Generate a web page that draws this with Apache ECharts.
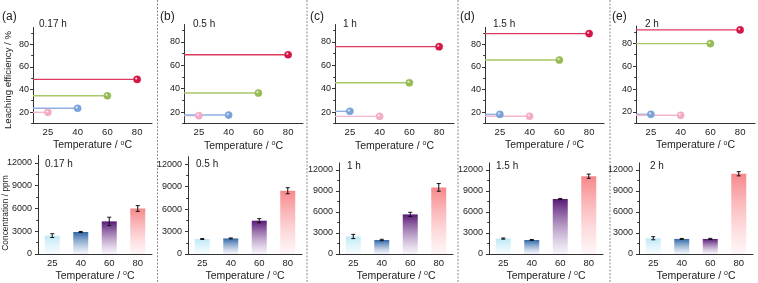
<!DOCTYPE html>
<html><head><meta charset="utf-8">
<script src="https://cdn.jsdelivr.net/npm/echarts@6/dist/echarts.min.js"></script>
<style>html,body{margin:0;padding:0;background:#fff}#c{width:758px;height:283px}</style>
</head><body><div id="c"></div>
<script>
// ---------- data ----------
const temperatures = ['25', '40', '60', '80'];
const periods = ['0.17 h', '0.5 h', '1 h', '1.5 h', '2 h'];
const panelLetters = ['(a)', '(b)', '(c)', '(d)', '(e)'];
// leaching efficiency (%) by temperature
const eff017 = [19.7, 23.3, 34.4, 48.9];
const eff05  = [16.9, 17.4, 36.3, 69.1];
const eff1   = [20.6, 16.3, 45.1, 76.0];
const eff15  = [17.9, 16.2, 66.1, 89.5];
const eff2   = [18.0, 17.1, 79.7, 91.7];
// concentration (ppm) and error by temperature
const conc017 = [2420, 2900, 4300, 6000];
const err017  = [250, 70, 550, 380];
const conc05  = [2000, 2080, 4450, 8450];
const err05   = [60, 60, 280, 400];
const conc1   = [2500, 2000, 5650, 9500];
const err1    = [300, 100, 300, 550];
const conc15  = [2200, 2000, 7850, 11100];
const err15   = [80, 70, 80, 300];
const conc2   = [2250, 2150, 2150, 11450];
const err2    = [220, 70, 80, 300];
// axis ticks
const effTicks = [20, 40, 60, 80];
const effMinor = [10, 30, 50, 70, 90];
const concTicks = [0, 3000, 6000, 9000, 12000];
const concMinor = [1500, 4500, 7500, 10500];
const effRange = [10, 95];
const concRange = [0, 13000];

const effSets = [eff017, eff05, eff1, eff15, eff2];
const concSets = [conc017, conc05, conc1, conc15, conc2];
const errSets = [err017, err05, err1, err15, err2];

// ---------- layout / style ----------
const FONT = '"Liberation Sans", Arial, sans-serif';
const topLeft = [33, 184, 335, 485, 636], topW = 119;
const topTop = [27.4, 24.5, 24.5, 27.4, 26.1], topBot = [123.3, 123.7, 123.7, 123.3, 123.45];
const botLeft = [38, 188, 339, 489, 639], botW = 114;
const botTop = [155.4, 156.7, 162.9, 162.9, 162.9], botBot = [254, 254.6, 255.3, 255.3, 255.3];
const sepX = [157.5, 307, 458, 610];
const rankMarker = ['#f3aac5', '#7aa3da', '#95bb52', '#d51545'];
const rankLine = ['#f4b6cc', '#8db0e0', '#a7c768', '#dc3a5e'];
const barTop = ['#bde8f7', '#2c66a6', '#581876', '#f7878a'];
const barBottom = ['rgba(235,248,253,0.5)', 'rgba(238,238,248,0.6)', 'rgba(244,238,248,0.6)', 'rgba(255,240,242,0.6)'];
const AX = '#333';

const grids = [], xAxes = [], yAxes = [], series = [], graphics = [];

function xAx(gi, nameGap) {
  return {
    type: 'category', gridIndex: gi, data: temperatures, boundaryGap: true,
    axisLine: {lineStyle: {color: AX, width: 1}},
    axisTick: {alignWithLabel: true, length: 3, lineStyle: {color: AX}},
    axisLabel: {fontSize: 9.5, color: '#222', margin: 4, fontFamily: FONT},
    name: 'Temperature / {s|o}C', nameLocation: 'middle', nameGap: nameGap,
    nameTextStyle: {fontSize: 10.5, color: '#222', fontFamily: FONT, lineHeight: 12,
      rich: {s: {fontSize: 7, verticalAlign: 'top', lineHeight: 12, fontFamily: FONT, color: '#222'}}}
  };
}
function yAx(gi, range, major, margin) {
  return {
    type: 'value', gridIndex: gi, min: range[0], max: range[1],
    axisLine: {show: true, lineStyle: {color: AX, width: 1}},
    axisTick: {show: true, length: 3, customValues: major, lineStyle: {color: AX}},
    axisLabel: {show: true, fontSize: 9, color: '#222', margin: margin, customValues: major, fontFamily: FONT,
      formatter: v => String(v)},
    splitLine: {show: false}
  };
}
function yMinor(gi, range, minor) {
  return {
    type: 'value', gridIndex: gi, min: range[0], max: range[1], position: 'left',
    axisLine: {show: false},
    axisTick: {show: true, length: 1.8, customValues: minor, lineStyle: {color: AX}},
    axisLabel: {show: false}, splitLine: {show: false}
  };
}

for (let p = 0; p < 5; p++) {
  // top grid
  const gT = grids.length;
  grids.push({left: topLeft[p], width: topW, top: topTop[p], height: topBot[p] - topTop[p]});
  xAxes.push(xAx(gT, 16));
  const yT = yAxes.length;
  yAxes.push(yAx(gT, effRange, effTicks, 4));
  yAxes.push(yMinor(gT, effRange, effMinor));
  const vals = effSets[p];
  const order = vals.map((v, k) => k).sort((a, b) => vals[a] - vals[b]);
  const rank = []; order.forEach((k, r) => { rank[k] = r; });
  const data = vals.map((v, k) => [k, v, rank[k]]);
  series.push({
    type: 'custom', xAxisIndex: gT, yAxisIndex: yT, data: data, encode: {x: 0, y: 1}, z: 2,
    renderItem: function (params, api) {
      const pt = api.coord([api.value(0), api.value(1)]);
      const x0 = params.coordSys.x;
      return {type: 'line', shape: {x1: x0, y1: pt[1], x2: pt[0], y2: pt[1]},
        style: {stroke: rankLine[api.value(2)], lineWidth: 1.4}};
    }
  });
  series.push({
    type: 'custom', xAxisIndex: gT, yAxisIndex: yT, data: data, encode: {x: 0, y: 1}, z: 3,
    renderItem: function (params, api) {
      const pt = api.coord([api.value(0), api.value(1)]);
      const c = rankMarker[api.value(2)];
      return {type: 'circle', shape: {cx: pt[0], cy: pt[1], r: 3.6},
        style: {fill: {type: 'radial', x: 0.38, y: 0.38, r: 0.7,
          colorStops: [{offset: 0, color: '#ffffff'}, {offset: 0.3, color: c}, {offset: 1, color: c}]},
          stroke: c, lineWidth: 0.5}};
    }
  });
  // bottom grid
  const gB = grids.length;
  grids.push({left: botLeft[p], width: botW, top: botTop[p], height: botBot[p] - botTop[p]});
  xAxes.push(xAx(gB, 16));
  const yB = yAxes.length;
  yAxes.push(yAx(gB, concRange, concTicks, 6));
  yAxes.push(yMinor(gB, concRange, concMinor));
  series.push({
    type: 'bar', xAxisIndex: gB, yAxisIndex: yB, barWidth: 15, z: 2,
    data: concSets[p].map((v, k) => ({value: v, itemStyle: {color: {type: 'linear', x: 0, y: 0, x2: 0, y2: 1,
      colorStops: [{offset: 0, color: barTop[k]}, {offset: 1, color: barBottom[k]}]}}}))
  });
  series.push({
    type: 'custom', xAxisIndex: gB, yAxisIndex: yB, z: 4,
    data: concSets[p].map((v, k) => [k, v, errSets[p][k]]), encode: {x: 0, y: 1},
    renderItem: function (params, api) {
      const k = api.value(0), v = api.value(1), e = api.value(2);
      const a = api.coord([k, v + e]), b = api.coord([k, v - e]);
      const w = 2;
      const st = {stroke: '#111', lineWidth: 1};
      return {type: 'group', children: [
        {type: 'line', shape: {x1: a[0], y1: a[1], x2: b[0], y2: b[1]}, style: st},
        {type: 'line', shape: {x1: a[0] - w, y1: a[1], x2: a[0] + w, y2: a[1]}, style: st},
        {type: 'line', shape: {x1: b[0] - w, y1: b[1], x2: b[0] + w, y2: b[1]}, style: st}
      ]};
    }
  });
  // texts
  graphics.push({type: 'text', left: [2, 160, 310, 460, 612][p], top: 11,
    style: {text: panelLetters[p], fontSize: 12, fill: '#222', fontFamily: FONT}});
  graphics.push({type: 'text', x: [39, 193, 343, 493, 645][p], y: 24,
    style: {text: periods[p], fontSize: 10, fill: '#222', fontFamily: FONT, verticalAlign: 'middle'}});
  graphics.push({type: 'text', x: [45, 196, 347, 496, 650][p], y: [164, 164, 166, 166.5, 166][p],
    style: {text: periods[p], fontSize: 10, fill: '#222', fontFamily: FONT, verticalAlign: 'middle'}});
}
// y-axis names
graphics.push({type: 'text', x: 8, y: 80, rotation: Math.PI / 2,
  style: {text: 'Leaching efficiency / %', fontSize: 9.6, fill: '#222', fontFamily: FONT, align: 'center', verticalAlign: 'middle'}});
graphics.push({type: 'text', x: 6, y: 213, rotation: Math.PI / 2,
  style: {text: 'Concentration / ppm', fontSize: 8.4, fill: '#222', fontFamily: FONT, align: 'center', verticalAlign: 'middle'}});
// dashed separators
sepX.forEach(x => graphics.push({type: 'line', shape: {x1: x, y1: 0, x2: x, y2: 283},
  style: {stroke: '#8a8a8a', lineWidth: 1, lineDash: [2, 1.5]}}));

const chart = echarts.init(document.getElementById('c'), null, {renderer: 'canvas'});
chart.setOption({
  animation: false, backgroundColor: '#fff',
  grid: grids, xAxis: xAxes, yAxis: yAxes, series: series, graphic: graphics
});
</script></body></html>
